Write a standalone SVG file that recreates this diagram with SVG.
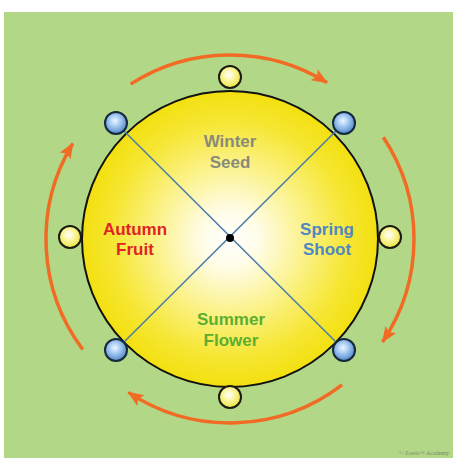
<svg xmlns="http://www.w3.org/2000/svg" width="453" height="458" viewBox="0 0 453 458">
<defs>
<radialGradient id="sun" cx="230" cy="239" r="148" gradientUnits="userSpaceOnUse">
<stop offset="0" stop-color="#ffffff"/>
<stop offset="0.2" stop-color="#fffce6"/>
<stop offset="0.5" stop-color="#fbf28a"/>
<stop offset="0.8" stop-color="#f6e632"/>
<stop offset="1" stop-color="#f3e010"/>
</radialGradient>
<radialGradient id="ybead" cx="0.45" cy="0.4" r="0.6">
<stop offset="0" stop-color="#ffffff"/>
<stop offset="0.4" stop-color="#fbf6a8"/>
<stop offset="1" stop-color="#ece43c"/>
</radialGradient>
<radialGradient id="bbead" cx="0.45" cy="0.4" r="0.6">
<stop offset="0" stop-color="#eef6ff"/>
<stop offset="0.45" stop-color="#a2c8f0"/>
<stop offset="1" stop-color="#4f86c8"/>
</radialGradient>
<marker id="ah" markerUnits="userSpaceOnUse" markerWidth="18" markerHeight="14" refX="15" refY="6.5" orient="auto">
<path d="M0,0 L16,6.5 L0,13 L3.5,6.5 z" fill="#f26b25"/>
</marker>
<style>
.arc{fill:none;stroke:#f26b25;stroke-width:3.5;marker-end:url(#ah)}
.spoke{stroke:#4d7ea8;stroke-width:1.6}
.yb{fill:url(#ybead);stroke:#1a1a10;stroke-width:2}
.bb{fill:url(#bbead);stroke:#16283a;stroke-width:2}
.lbl{font-family:"Liberation Sans",Arial,sans-serif;font-weight:bold;font-size:17px;text-anchor:middle}
</style>
</defs>
<rect x="0" y="0" width="453" height="458" fill="#ffffff"/>
<rect x="4" y="12" width="449" height="446" fill="#b2d787"/>
<g id="connectors">
<path class="arc" d="M130.6,84.1 A184,184 0 0 1 327,82.6"/>
<path class="arc" d="M383.3,137.2 A184,184 0 0 1 382.5,341.9"/>
<path class="arc" d="M342,384.9 A184,184 0 0 1 128.4,392.4"/>
<path class="arc" d="M82.8,349.5 A184,184 0 0 1 72.8,143.4"/>
</g>
<g id="wheel">
<circle cx="230" cy="239" r="148" fill="url(#sun)" stroke="#111" stroke-width="2"/>
<line class="spoke" x1="116" y1="123" x2="344" y2="350"/>
<line class="spoke" x1="344" y1="123" x2="116" y2="350"/>
<circle cx="230" cy="238" r="4" fill="#000"/>
</g>
<g id="winter"><text class="lbl" fill="#8a8a7c" x="230" y="147">Winter</text><text class="lbl" fill="#8a8a7c" x="230" y="168">Seed</text></g>
<g id="spring"><text class="lbl" fill="#4f87c0" x="327" y="235">Spring</text><text class="lbl" fill="#4f87c0" x="327" y="255">Shoot</text></g>
<g id="summer"><text class="lbl" fill="#5aaf32" x="231" y="325">Summer</text><text class="lbl" fill="#5aaf32" x="231" y="346">Flower</text></g>
<g id="autumn"><text class="lbl" fill="#e02424" x="135" y="235">Autumn</text><text class="lbl" fill="#e02424" x="135" y="255">Fruit</text></g>
<g id="bead-top"><circle class="yb" cx="230" cy="77" r="11"/></g>
<g id="bead-right"><circle class="yb" cx="390" cy="237" r="11"/></g>
<g id="bead-bottom"><circle class="yb" cx="230" cy="397" r="11"/></g>
<g id="bead-left"><circle class="yb" cx="70" cy="237" r="11"/></g>
<g id="bead-nw"><circle class="bb" cx="116" cy="123" r="11"/></g>
<g id="bead-ne"><circle class="bb" cx="344" cy="123" r="11"/></g>
<g id="bead-sw"><circle class="bb" cx="116" cy="350" r="11"/></g>
<g id="bead-se"><circle class="bb" cx="344" cy="350" r="11"/></g>
<text x="449" y="455" font-family="Liberation Serif,serif" font-size="6" fill="#7a8a6a" text-anchor="end">© Zoetic® Academy</text>
</svg>
